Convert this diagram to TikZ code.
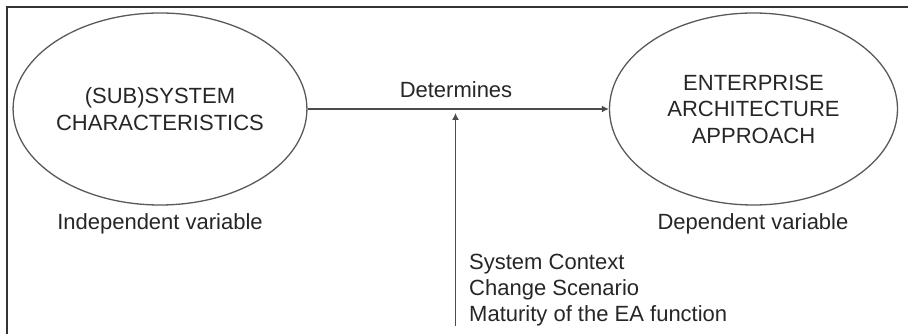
\documentclass[tikz,border=0pt]{standalone}
\usepackage{fontspec}
\setmainfont{Liberation Sans}
\usetikzlibrary{arrows.meta, positioning, shapes.geometric}

\begin{document}
\begin{tikzpicture}[x=1pt, y=1pt,
  var/.style={draw=black!65, line width=1.3pt, ellipse, minimum width=288pt, minimum height=192pt, align=center, font=\fontsize{22}{26.5}\selectfont, text=black!85, inner sep=0pt},
  txt/.style={font=\fontsize{22}{26}\selectfont, text=black!85, inner sep=0pt},
  link/.style={draw=black!70, line width=1.3pt, -{Latex[length=7pt, width=7pt]}}]
	\useasboundingbox (0,0) rectangle (908,334);
	\draw[black!80, line width=2pt] (6.5,0) -- (6.5,327) -- (908,327);
	\node (sub) [var] at (160,225) {(SUB)SYSTEM\\CHARACTERISTICS};
	\node (ea) [var] at (753.5,225) {ENTERPRISE\\ARCHITECTURE\\APPROACH};
	\node (indep) [txt, anchor=base] at (160,104) {Independent variable};
	\node (dep) [txt, anchor=base] at (753,104) {Dependent variable};
	\draw[link] (sub.east) -- (ea.west);
	\node (det) [txt, anchor=base] at (456,236) {Determines};
	\coordinate (foot) at (455.5,8);
	\coordinate (head) at (455.5,221);
	\draw[link] (foot) -- (head);
	\node (ctx) [txt, anchor=base west, align=left] at (469,12) {System Context\\Change Scenario\\Maturity of the EA function};
\end{tikzpicture}
\end{document}
